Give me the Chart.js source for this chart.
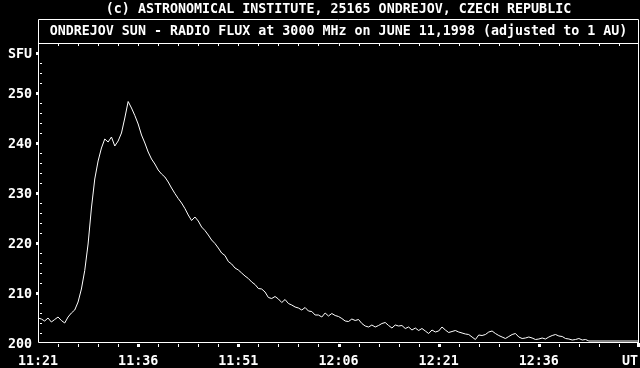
<!DOCTYPE html>
<html>
<head>
<meta charset="utf-8">
<style>
  html, body { margin: 0; padding: 0; background: #000; }
  canvas { display: block; }
</style>
<script src="https://cdn.jsdelivr.net/npm/chart.js@4.4.1/dist/chart.umd.min.js"></script>
</head>
<body>
<canvas id="c" width="640" height="368"></canvas>
<script>
// ---- data ----
const headerText = '(c) ASTRONOMICAL INSTITUTE, 25165 ONDREJOV, CZECH REPUBLIC';
const titleText = 'ONDREJOV SUN - RADIO FLUX at 3000 MHz on JUNE 11,1998 (adjusted to 1 AU)';
const yUnitLabel = 'SFU';
const xUnitLabel = 'UT';
const timeLabels = ['11:21', '11:36', '11:51', '12:06', '12:21', '12:36'];
const yTickValues = [200, 210, 220, 230, 240, 250];

// minutes after 11:21 UT
const sampleMinutes = [
  0, 0.5, 1, 1.5, 2, 2.5, 3, 3.5, 4, 4.5, 5, 5.5, 6, 6.5, 7, 7.5, 8, 8.5, 9, 9.5,
  10, 10.5, 11, 11.5, 12, 12.5, 13, 13.5, 14, 14.5, 15, 15.5, 16, 16.5, 17, 17.5, 18, 18.5, 19, 19.5,
  20, 20.5, 21, 21.5, 22, 22.5, 23, 23.5, 24, 24.5, 25, 25.5, 26, 26.5, 27, 27.5, 28, 28.5, 29, 29.5,
  30, 30.5, 31, 31.5, 32, 32.5, 33, 33.5, 34, 34.5, 35, 35.5, 36, 36.5, 37, 37.5, 38, 38.5, 39, 39.5,
  40, 40.5, 41, 41.5, 42, 42.5, 43, 43.5, 44, 44.5, 45, 45.5, 46, 46.5, 47, 47.5, 48, 48.5, 49, 49.5,
  50, 50.5, 51, 51.5, 52, 52.5, 53, 53.5, 54, 54.5, 55, 55.5, 56, 56.5, 57, 57.5, 58, 58.5, 59, 59.5,
  60, 60.5, 61, 61.5, 62, 62.5, 63, 63.5, 64, 64.5, 65, 65.5, 66, 66.5, 67, 67.5, 68, 68.5, 69, 69.5,
  70, 70.5, 71, 71.5, 72, 72.5, 73, 73.5, 74, 74.5, 75, 75.5, 76, 76.5, 77, 77.5, 78, 78.5, 79, 79.5,
  80, 80.5, 81, 81.5, 82, 82.5, 90
];
// radio flux, SFU
const fluxSFU = [
  205.0, 204.8, 204.4, 205.0, 204.2, 204.7, 205.2, 204.5, 204.0, 205.2, 206.0, 206.6, 208.2, 210.8, 214.5, 219.8, 227.0, 232.8, 236.4, 239.0,
  240.8, 240.2, 241.2, 239.4, 240.4, 242.0, 245.0, 248.3, 247.0, 245.5, 243.8, 241.6, 240.0, 238.2, 236.8, 235.8, 234.6, 233.8, 233.2, 232.2,
  231.0, 229.9, 228.9, 228.0, 226.9, 225.6, 224.5, 225.2, 224.4, 223.2, 222.5, 221.6, 220.6, 219.9, 219.0, 218.0, 217.5, 216.3, 215.8, 215.0,
  214.6, 214.0, 213.4, 212.9, 212.2, 211.7, 210.9, 210.8, 210.2, 209.1, 208.9, 209.3, 208.8, 208.1, 208.7, 207.9, 207.6, 207.2, 207.0, 206.6,
  207.1, 206.4, 206.3, 205.6, 205.6, 205.2, 206.0, 205.4, 205.9, 205.5, 205.3, 204.9, 204.4, 204.3, 204.8, 204.5, 204.7, 203.9, 203.4, 203.2,
  203.6, 203.2, 203.5, 203.9, 204.1, 203.5, 203.0, 203.6, 203.4, 203.5, 202.9, 203.2, 202.6, 203.0, 202.5, 202.9, 202.4, 201.9, 202.6, 202.2,
  202.4, 203.2, 202.6, 202.1, 202.3, 202.5, 202.2, 202.0, 201.8, 201.7, 201.2, 200.7, 201.6, 201.5, 201.7, 202.2, 202.4, 201.9, 201.5, 201.2,
  200.9, 201.3, 201.7, 201.9, 201.2, 200.9, 201.0, 201.2, 201.0, 200.7, 200.8, 201.0, 200.8, 201.2, 201.5, 201.7, 201.4, 201.3, 200.9, 200.8,
  200.6, 200.7, 200.9, 200.6, 200.7, 200.4, 200.4
];

const xMin = 0, xMax = 90, xMinorStep = 3, xMajorStep = 15;
const yMin = 200, yMax = 260, yMinorStep = 2, yMajorStep = 10, yUnitAt = 258;

// ---- chart ----
const FONT = { family: "'DejaVu Sans Mono', 'Liberation Mono', monospace", size: 13.33, weight: 'bold' };
const FONT_CSS = "bold 13.33px 'DejaVu Sans Mono', 'Liberation Mono', monospace";

const frame = {
  id: 'frame',
  beforeDraw(chart) {
    const ctx = chart.ctx;
    ctx.save();
    ctx.fillStyle = '#000';
    ctx.fillRect(0, 0, chart.width, chart.height);
    ctx.restore();
  },
  afterDraw(chart) {
    const ctx = chart.ctx, ca = chart.chartArea;
    const xs = chart.scales.x, ys = chart.scales.y;
    const L = Math.round(ca.left) + 0.5;
    const R = Math.round(ca.right) - 0.5;
    const T = Math.round(ca.top) + 0.5;
    const B = Math.round(ys.getPixelForValue(yMin)) - 0.5;
    const boxTop = 19.5;
    ctx.save();
    ctx.strokeStyle = '#fff';
    ctx.fillStyle = '#fff';
    ctx.lineWidth = 1;
    ctx.beginPath();
    // title box + plot frame
    ctx.moveTo(L, boxTop); ctx.lineTo(R, boxTop);
    ctx.moveTo(L, T); ctx.lineTo(R, T);
    ctx.moveTo(L, boxTop); ctx.lineTo(L, B);
    ctx.moveTo(R, boxTop); ctx.lineTo(R, B);
    ctx.moveTo(L, B); ctx.lineTo(R + 0.5, B);
    ctx.stroke();

    // x ticks (top inside, bottom outside)
    for (let v = xMin + xMinorStep; v < xMax; v += xMinorStep) {
      const px = Math.round(xs.getPixelForValue(v));
      ctx.fillRect(px, Math.round(T), 1, 2);
      if (v % xMajorStep === 0) {
        ctx.fillRect(px - 1, Math.round(B) + 1, 3, 3);
      } else {
        ctx.fillRect(px, Math.round(B) + 1, 1, 3);
      }
    }
    // corner marker at end of time axis
    const pxEnd = Math.round(xs.getPixelForValue(xMax));
    ctx.fillRect(pxEnd - 2, Math.round(B), 3, 4);

    // y ticks (minor inside, major markers outside)
    for (let v = yMin + yMinorStep; v < yMax; v += yMinorStep) {
      const py = Math.round(ys.getPixelForValue(v));
      if (v % yMajorStep === 0 || v === yUnitAt) {
        ctx.fillRect(Math.round(L) - 3, py - 1, 3, 3);
      } else {
        ctx.fillRect(Math.round(L) + 1, py, 2, 1);
      }
    }

    // texts
    ctx.font = FONT_CSS;
    ctx.textBaseline = 'middle';
    ctx.textAlign = 'center';
    const cx = (ca.left + ca.right) / 2;
    ctx.fillText(headerText, cx, 10);
    ctx.fillText(titleText, cx, 32);
    ctx.textAlign = 'right';
    ctx.fillText(xUnitLabel, 638, 361.5);
    ctx.restore();
  }
};

new Chart(document.getElementById('c'), {
  type: 'line',
  data: {
    datasets: [{
      data: sampleMinutes.map((m, i) => ({ x: m, y: fluxSFU[i] })),
      borderColor: '#fff',
      borderWidth: 1,
      pointRadius: 0,
      tension: 0,
      fill: false
    }]
  },
  options: {
    responsive: false,
    animation: false,
    devicePixelRatio: 1,
    layout: { padding: { top: 43, right: 1, left: 0, bottom: 0 } },
    plugins: { legend: { display: false }, title: { display: false }, tooltip: { enabled: false } },
    scales: {
      x: {
        type: 'linear',
        min: xMin, max: xMax,
        grid: { display: false, drawTicks: false },
        border: { display: false },
        ticks: {
          stepSize: xMinorStep,
          autoSkip: false,
          maxRotation: 0,
          padding: 11,
          color: '#fff',
          font: FONT,
          callback: (v) => (v % xMajorStep === 0 && v < xMax) ? timeLabels[v / xMajorStep] : ''
        },
        afterFit(s) { s.height = 25; s.paddingLeft = 0; s.paddingRight = 0; }
      },
      y: {
        type: 'linear',
        min: yMin, max: yMax,
        grid: { display: false, drawTicks: false },
        border: { display: false },
        ticks: {
          stepSize: yMinorStep,
          autoSkip: false,
          padding: 6,
          labelOffset: 2,
          color: '#fff',
          font: FONT,
          callback: (v) => v === yUnitAt ? yUnitLabel : (yTickValues.includes(v) ? String(v) : '')
        },
        afterFit(s) { s.width = 38; s.paddingTop = 0; s.paddingBottom = 0; }
      }
    }
  },
  plugins: [frame]
});
</script>
</body>
</html>
